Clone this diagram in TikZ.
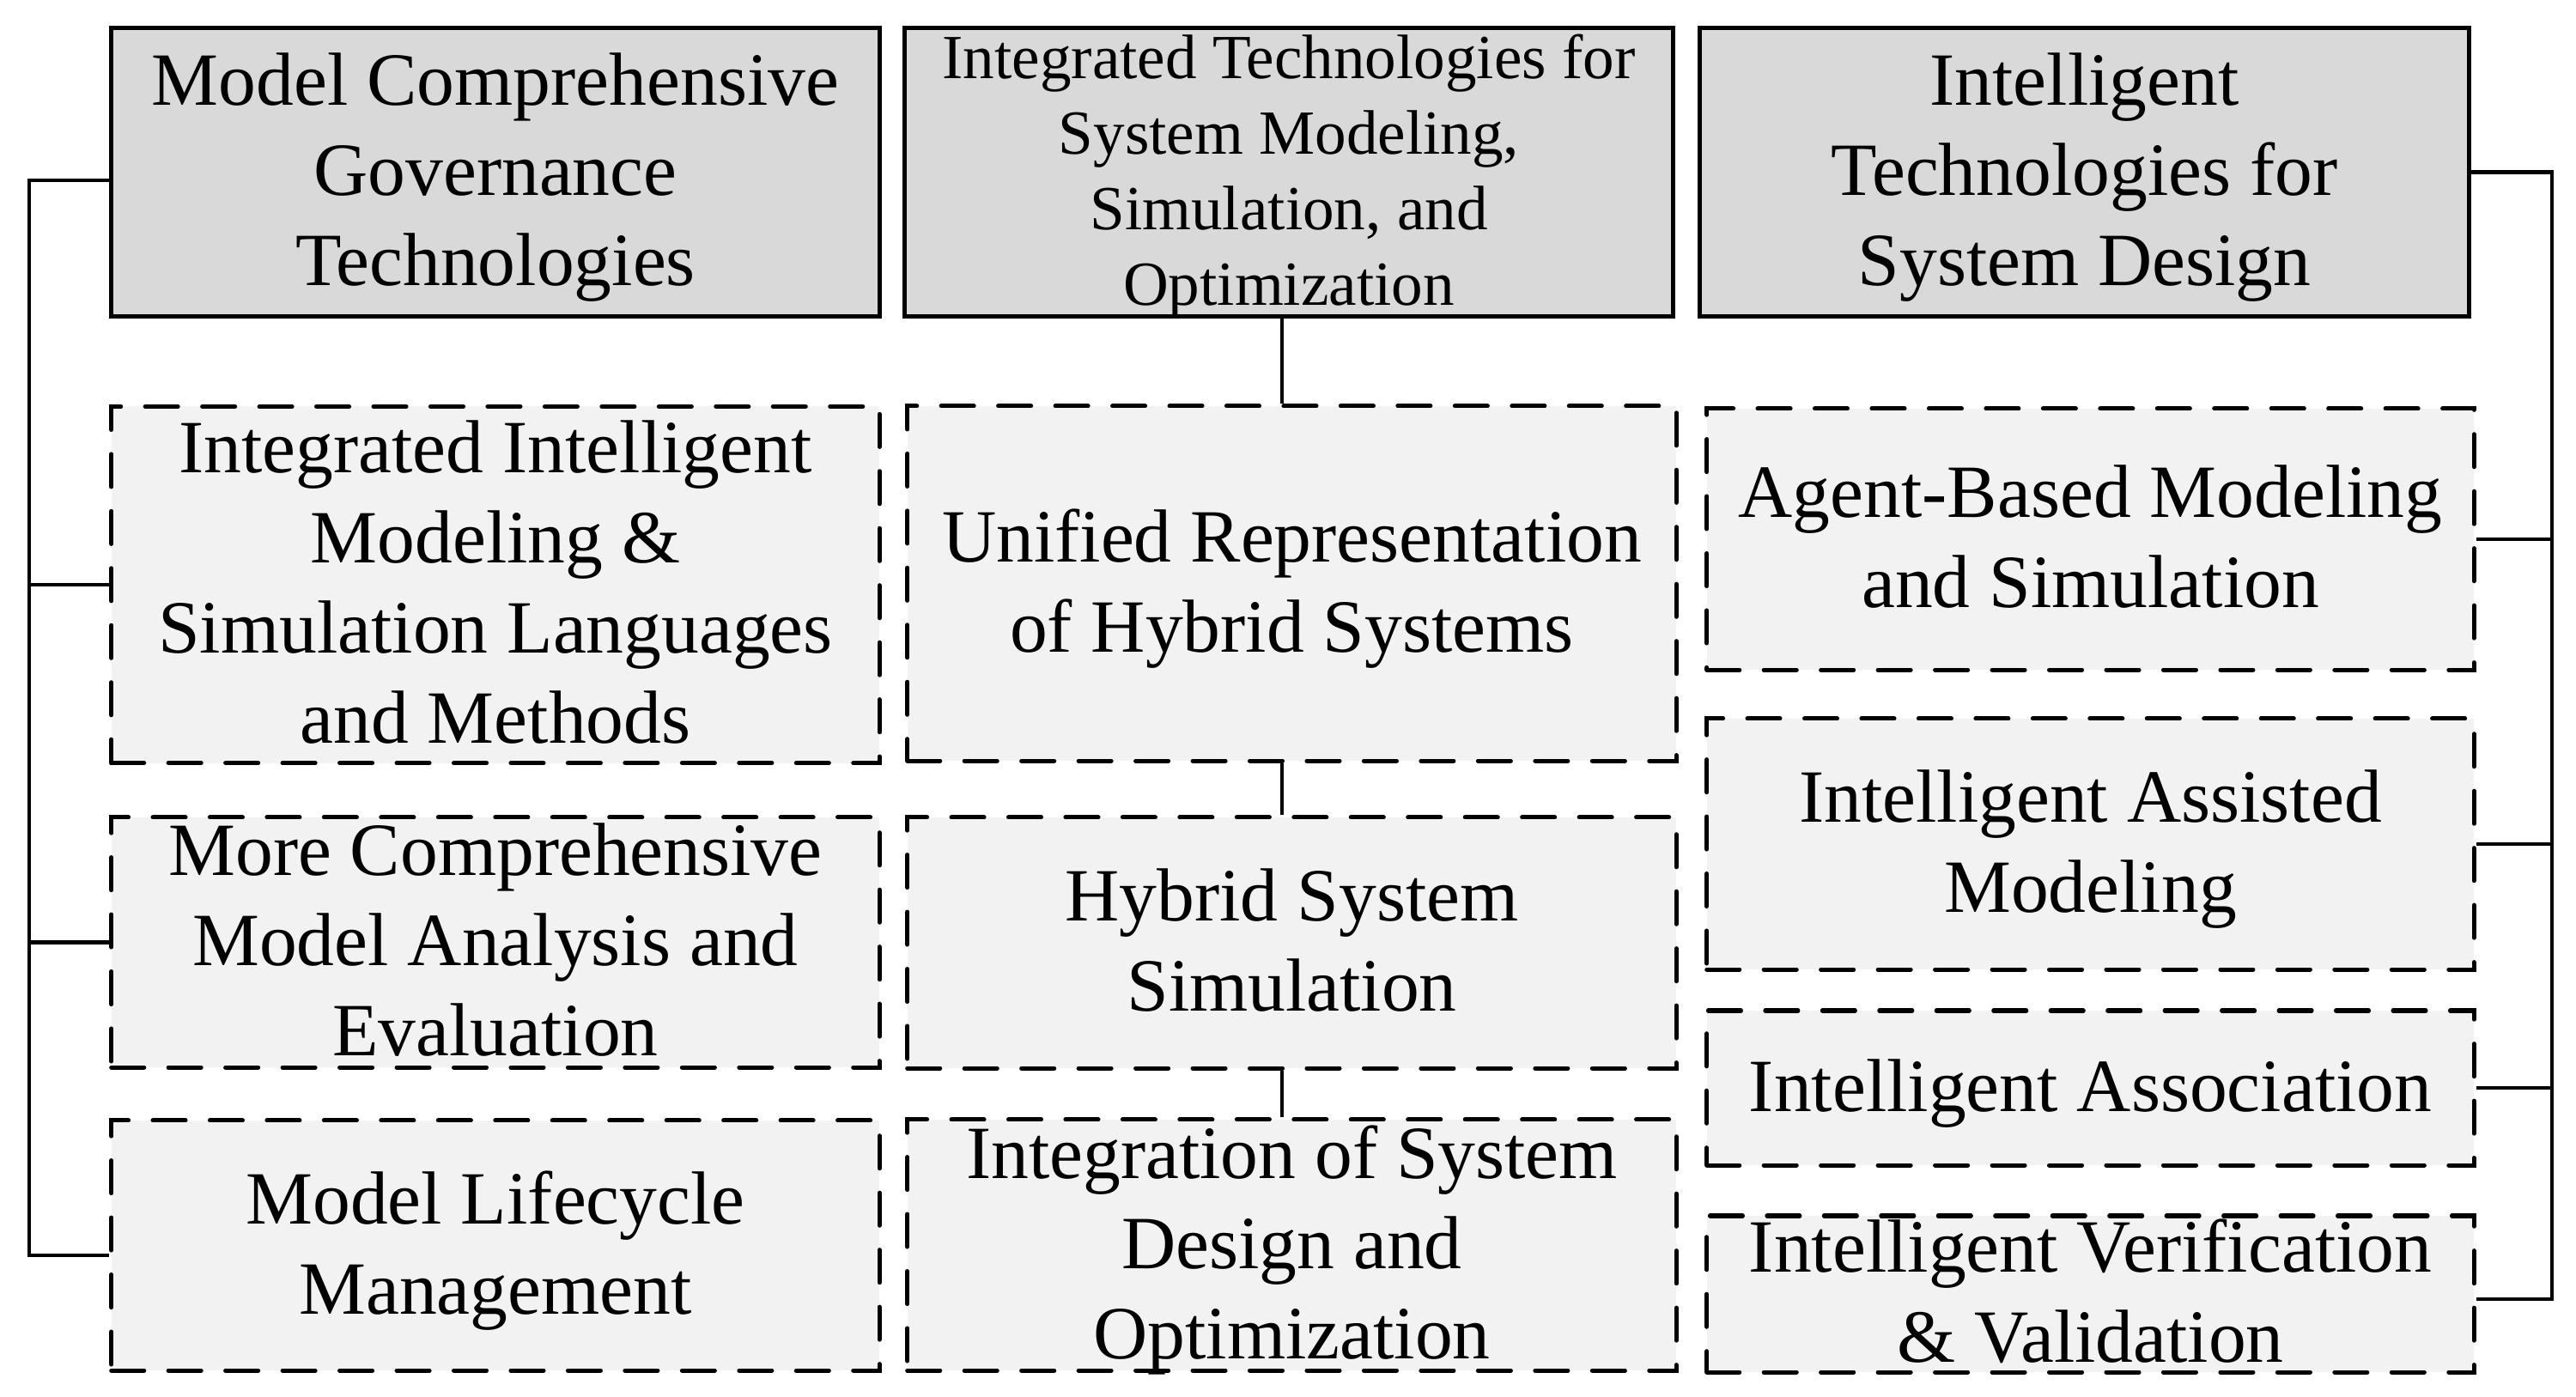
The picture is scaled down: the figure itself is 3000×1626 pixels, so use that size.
\documentclass[tikz,border=0pt]{standalone}
\usepackage{fontspec}
\setmainfont{Liberation Serif}
\newcommand{\bigfont}{\fontsize{24.9}{29.9}\selectfont}
\newcommand{\smallfont}{\fontsize{20.8}{25}\selectfont}
% struts for consistent vertical centring of the text blocks
\newcommand{\tsh}{\rule{0pt}{0.87em}}
\newcommand{\tsd}{\rule[-0.25em]{0pt}{0.25em}}
\definecolor{headgray}{HTML}{D9D9D9}
\definecolor{subgray}{HTML}{F2F2F2}
\tikzset{
  boxtext/.style={inner sep=0pt, align=center, font=\bigfont},
  headbox/.style={draw=black, line width=1.4pt, fill=headgray, inner sep=0pt},
  subbox/.style={draw=black, line width=1.45pt, fill=subgray,
    dash pattern=on 10.8pt off 8.1pt, line cap=round, inner sep=0pt},
  conn/.style={line width=1.3pt, draw=black}
}
\begin{document}
\begin{tikzpicture}[x=0.01cm, y=-0.01cm]
\useasboundingbox (0,0) rectangle (3000,1626);

% header boxes
\node[headbox, minimum width=8.94cm, minimum height=3.35cm,
  label={[boxtext]center:\tsh Model Comprehensive\\Governance\\Technologies\tsd}] (tl) at (577,200.5) {};
\node[headbox, minimum width=8.94cm, minimum height=3.35cm,
  label={[boxtext, font=\smallfont]center:\tsh Integrated Technologies for\\System Modeling,\\Simulation, and\\Optimization\tsd}] (tm) at (1501,200.5) {};
\node[headbox, minimum width=8.95cm, minimum height=3.35cm,
  label={[boxtext]center:\tsh Intelligent\\Technologies for\\System Design\tsd}] (tr) at (2427.5,200.5) {};

% left column
\node[subbox, minimum width=8.94cm, minimum height=4.15cm,
  label={[boxtext]center:\tsh Integrated Intelligent\\Modeling \&\\Simulation Languages\\and Methods\tsd}] (l1) at (577,681) {};
\node[subbox, minimum width=8.94cm, minimum height=2.91cm,
  label={[boxtext]center:\tsh More Comprehensive\\Model Analysis and\\Evaluation\tsd}] (l2) at (577,1097.5) {};
\node[subbox, minimum width=8.94cm, minimum height=2.91cm,
  label={[boxtext]center:\tsh Model Lifecycle\\Management\tsd}] (l3) at (577,1450.5) {};

% middle column
\node[subbox, minimum width=8.95cm, minimum height=4.13cm,
  label={[boxtext]center:\tsh Unified Representation\\of Hybrid Systems\tsd}] (m1) at (1504.5,679.5) {};
\node[subbox, minimum width=8.95cm, minimum height=2.92cm,
  label={[boxtext]center:\tsh Hybrid System\\Simulation\tsd}] (m2) at (1504.5,1098) {};
\node[subbox, minimum width=8.95cm, minimum height=2.92cm,
  label={[boxtext]center:\tsh Integration of System\\Design and\\Optimization\tsd}] (m3) at (1504.5,1450) {};

% right column
\node[subbox, minimum width=8.93cm, minimum height=3.04cm,
  label={[boxtext]center:\tsh Agent-Based Modeling\\and Simulation\tsd}] (r1) at (2434.5,628) {};
\node[subbox, minimum width=8.93cm, minimum height=2.92cm,
  label={[boxtext]center:\tsh Intelligent Assisted\\Modeling\tsd}] (r2) at (2434.5,983) {};
\node[subbox, minimum width=8.93cm, minimum height=1.80cm,
  label={[boxtext]center:\tsh Intelligent Association\tsd}] (r3) at (2434.5,1267) {};
\node[subbox, minimum width=8.93cm, minimum height=1.82cm,
  label={[boxtext]center:\tsh Intelligent Verification\\\& Validation\tsd}] (r4) at (2434.5,1507) {};

% trunk coordinates
\coordinate (lt) at (34,210);
\coordinate (lb) at (34,1462);
\coordinate (rt) at (2972,200.5);
\coordinate (rb) at (2972,1513);
\coordinate (mc) at (1493,0);

% left connectors
\draw[conn] (tl.west |- lt) -- (lt) -- (lb) -- (l3.west |- lb);
\draw[conn] (l1.west) -- (l1.west -| lt);
\draw[conn] (l2.west) -- (l2.west -| lt);

% right connectors
\draw[conn] (tr.east |- rt) -- (rt) -- (rb) -- (r4.east |- rb);
\draw[conn] (r1.east) -- (r1.east -| rt);
\draw[conn] (r2.east) -- (r2.east -| rt);
\draw[conn] (r3.east) -- (r3.east -| rt);

% middle connectors
\draw[conn] (tm.south -| mc) -- (m1.north -| mc);
\draw[conn] (m1.south -| mc) -- (m2.north -| mc);
\draw[conn] (m2.south -| mc) -- (m3.north -| mc);
\end{tikzpicture}
\end{document}
